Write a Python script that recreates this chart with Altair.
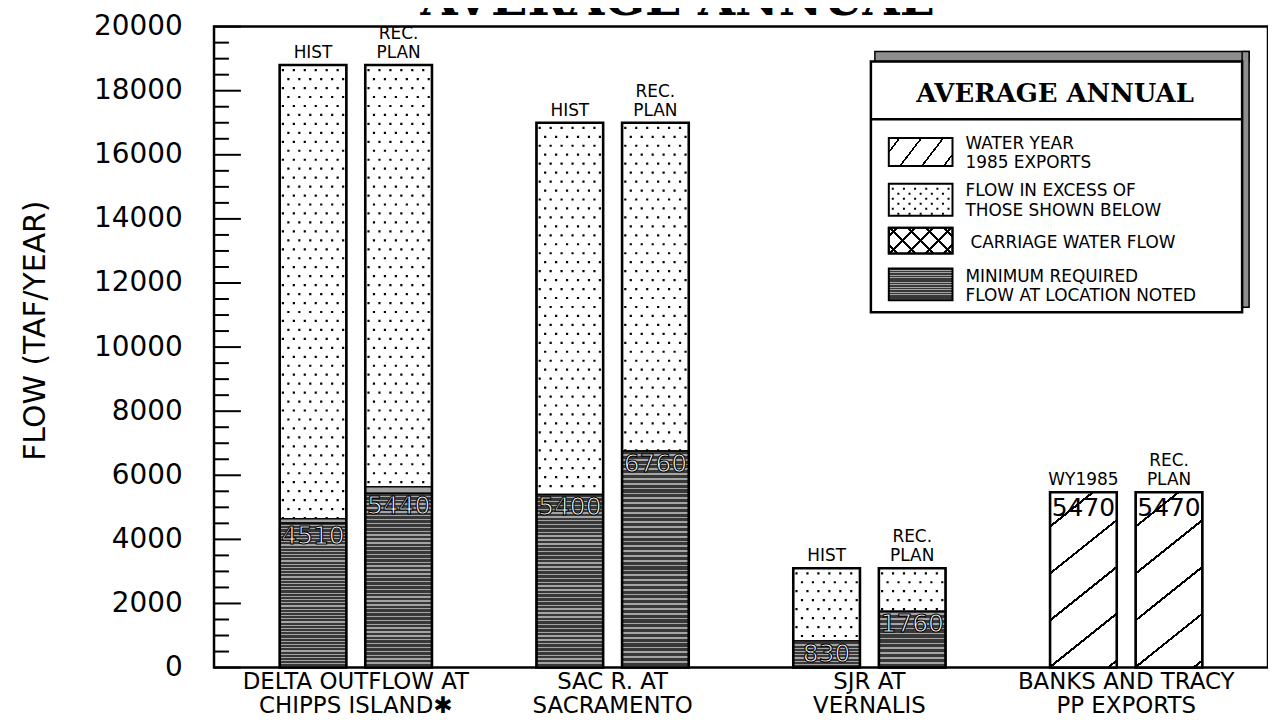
import altair as alt
import pandas as pd

# ---------------- data ----------------
group_names = [
    "DELTA OUTFLOW AT\nCHIPPS ISLAND\u2731",
    "SAC R. AT\nSACRAMENTO",
    "SJR AT\nVERNALIS",
    "BANKS AND TRACY\nPP EXPORTS",
]
bar_group = [0, 0, 1, 1, 2, 2, 3, 3]
bar_slot = [0, 1, 0, 1, 0, 1, 0, 1]
bar_labels = ["HIST", "REC.\nPLAN", "HIST", "REC.\nPLAN", "HIST", "REC.\nPLAN", "WY1985", "REC.\nPLAN"]
total_flow = [18800, 18800, 17000, 17000, 3100, 3100, 5470, 5470]
min_required = [4510, 5440, 5400, 6760, 830, 1760, 0, 0]
carriage_water = [130, 200, 0, 0, 0, 0, 0, 0]
exports_1985 = [0, 0, 0, 0, 0, 0, 5470, 5470]
y_label_ticks = list(range(0, 20001, 2000))
y_minor_ticks = list(range(0, 20001, 500))
legend_title = "AVERAGE ANNUAL"
legend_labels = [
    ["WATER YEAR", "1985 EXPORTS"],
    ["FLOW IN EXCESS OF", "THOSE SHOWN BELOW"],
    ["CARRIAGE WATER FLOW"],
    ["MINIMUM REQUIRED", "FLOW AT LOCATION NOTED"],
]
chart_title = "AVERAGE ANNUAL"

# ---------------- table ----------------
keys = [f"G{g}B{s}" for g, s in zip(bar_group, bar_slot)]
domain = []
for g in range(len(group_names)):
    if g > 0:
        domain.append(f"gap{g}")
    domain += [f"G{g}B0", f"G{g}B1"]

split_labels = [lab.split("\n") for lab in bar_labels]
df = pd.DataFrame({
    "key": keys,
    "group": [group_names[g] for g in bar_group],
    "slot": bar_slot,
    "lab_top": [p[0] if len(p) > 1 else "" for p in split_labels],
    "lab_bot": [p[-1] for p in split_labels],
    "total": total_flow,
    "min": min_required,
    "carr_top": [m + c for m, c in zip(min_required, carriage_water)],
    "exports": exports_1985,
})
df["min_text"] = df["min"].astype(str)
df["exp_text"] = df["exports"].astype(str)

# ---------------- fills ----------------
def stripes(ts, half, line, bg):
    stops = [{"offset": 0, "color": bg}]
    for t in ts:
        stops += [{"offset": t - half, "color": bg}, {"offset": t - half, "color": line},
                  {"offset": t + half, "color": line}, {"offset": t + half, "color": bg}]
    stops.append({"offset": 1, "color": bg})
    return stops

def streak_fill():
    n = 45
    stops = []
    for i in range(n):
        a, b, c = i / n, (i + 0.64) / n, (i + 1) / n
        stops += [{"offset": a, "color": "#383838"}, {"offset": b, "color": "#383838"},
                  {"offset": b, "color": "#a4a4a4"}, {"offset": c, "color": "#a4a4a4"}]
    return {"gradient": "linear", "x1": 0, "y1": 0, "x2": 0, "y2": 1, "stops": stops}

STREAK = streak_fill()
HATCH_BAR = {"gradient": "linear", "x1": 0, "y1": 0, "x2": 0.3636, "y2": 1.194,
             "stops": stripes([0.150, 0.355, 0.560, 0.764, 0.969], 0.006, "#000000", "#ffffff")}
HATCH_LEG = {"gradient": "linear", "x1": 0, "y1": 0, "x2": 1.2006, "y2": 0.404,
             "stops": stripes([0.126, 0.383, 0.640, 0.897], 0.012, "#000000", "#ffffff")}
CROSS_A = {"gradient": "linear", "x1": 0, "y1": 0, "x2": 1.207, "y2": 0.49,
           "stops": stripes([0.1, 0.3, 0.5, 0.7, 0.9], 0.016, "#000000", "rgba(255,255,255,0)")}
CROSS_B = {"gradient": "linear", "x1": 0, "y1": 1, "x2": 1.207, "y2": 0.51,
           "stops": stripes([0.1, 0.3, 0.5, 0.7, 0.9], 0.016, "#000000", "rgba(255,255,255,0)")}

FONT = "DejaVu Sans"
yscale = alt.Scale(domain=[0, 20000], nice=False, zero=True)
xenc = alt.X("key:N", scale=alt.Scale(domain=domain, paddingInner=0.221, paddingOuter=0.767), axis=None)
yaxis = alt.Axis(values=y_label_ticks, format="d", tickSize=0, domain=False, grid=False, labelFont=FONT,
                 labelFontSize=28, labelPadding=32, labelColor="black", labelOverlap=False,
                 title="FLOW (TAF/YEAR)", titleFont=FONT, titleFontSize=30, titleFontWeight="normal",
                 titleColor="black", titleX=-179, titleY=305, titleAngle=270, titleAlign="center",
                 titleBaseline="middle")

def Y(field):
    return alt.Y(field, scale=yscale, axis=yaxis)

base = alt.Chart(df)
layers = []

# excess flow (white with dots)
layers.append(base.transform_filter("datum.exports == 0").mark_bar(fill="white", stroke="black", strokeWidth=1.5)
              .encode(x=xenc, y=Y("carr_top:Q"), y2="total:Q"))
offsets = [-30.25 + 5.5 * i for i in range(12)]
for i, off in enumerate(offsets):
    layers.append(base.transform_filter("datum.exports == 0")
                  .mark_rule(stroke="black", strokeWidth=2.2, strokeDash=[2.2, 15.8],
                             strokeDashOffset=(14 if i % 2 == 0 else 5), xOffset=off)
                  .encode(x=xenc, y=Y("total:Q"), y2="carr_top:Q"))
# carriage water
layers.append(base.transform_filter("datum.carr_top > datum.min").mark_bar(fill="#a3a3a3", stroke="black", strokeWidth=1.2)
              .encode(x=xenc, y=Y("min:Q"), y2="carr_top:Q"))
# minimum required
layers.append(base.transform_filter("datum.min > 0").mark_bar(fill=STREAK, stroke="black", strokeWidth=1.5)
              .encode(x=xenc, y=Y("min:Q")))
# exports
layers.append(base.transform_filter("datum.exports > 0").mark_bar(fill=HATCH_BAR, stroke="black", strokeWidth=1.5)
              .encode(x=xenc, y=Y("exports:Q")))
# outline
layers.append(base.mark_bar(fillOpacity=0, stroke="black", strokeWidth=2.6)
              .encode(x=xenc, y=Y("total:Q")))
# scenario labels (two lines)
layers.append(base.mark_text(baseline="alphabetic", dy=-7, fontSize=17, font=FONT, color="black")
              .encode(x=xenc, y=Y("total:Q"), text="lab_bot:N"))
layers.append(base.mark_text(baseline="alphabetic", dy=-26, fontSize=17, font=FONT, color="black")
              .encode(x=xenc, y=Y("total:Q"), text="lab_top:N"))
# value labels
layers.append(base.transform_filter("datum.min > 0")
              .mark_text(baseline="top", dy=1, fontSize=25, font=FONT, fill="white", stroke="black", strokeWidth=1.1)
              .encode(x=xenc, y=Y("min:Q"), text="min_text:N"))
layers.append(base.transform_filter("datum.exports > 0")
              .mark_text(baseline="top", dy=4, fontSize=25, font=FONT, color="black")
              .encode(x=xenc, y=Y("exports:Q"), text="exp_text:N"))
# group labels
layers.append(base.transform_filter("datum.slot == 0")
              .mark_text(xOffset=43, baseline="alphabetic", lineBreak="\n", lineHeight=24, fontSize=23, font=FONT, color="black")
              .encode(x=xenc, y=alt.value(666), text="group:N"))

# y ticks (inward)
tick_df = pd.DataFrame({"v": y_minor_ticks})
tick_df["major"] = [v in y_label_ticks for v in y_minor_ticks]
tick_base = alt.Chart(tick_df)
layers.append(tick_base.transform_filter("datum.major").mark_rule(stroke="black", strokeWidth=2)
              .encode(y=Y("v:Q"), x=alt.value(0), x2=alt.value(27)))
layers.append(tick_base.transform_filter("!datum.major").mark_rule(stroke="black", strokeWidth=2)
              .encode(y=Y("v:Q"), x=alt.value(0), x2=alt.value(15)))

# ---------------- decorations (legend box, title) ----------------
one = alt.Chart(pd.DataFrame({"d": [0]}))

def rect(x, y, x2, y2, **mk):
    return one.mark_rect(**mk).encode(x=alt.value(x), x2=alt.value(x2), y=alt.value(y), y2=alt.value(y2))

def text(x, y, t, **mk):
    return one.mark_text(text=t, **mk).encode(x=alt.value(x), y=alt.value(y))

def vrule(x, y, y2, **mk):
    return one.mark_rule(**mk).encode(x=alt.value(x), y=alt.value(y), y2=alt.value(y2))

layers.append(text(465, -12, chart_title, font="DejaVu Serif", fontWeight="bold", fontSize=48,
                   baseline="alphabetic", align="center", color="black"))

layers.append(rect(664, 25, 1040, 35, fill="#8e8e8e", stroke="black", strokeWidth=1.5))
layers.append(rect(1033, 25, 1040, 282, fill="#8e8e8e", stroke="black", strokeWidth=1.5))
layers.append(rect(660, 35, 1033, 287, fill="white", stroke="black", strokeWidth=2.5))
layers.append(text(845, 68, legend_title, font="DejaVu Serif", fontWeight="bold", fontSize=26,
                   baseline="middle", align="center", color="black"))
layers.append(one.mark_rule(stroke="black", strokeWidth=2.5)
              .encode(x=alt.value(660), x2=alt.value(1033), y=alt.value(93)))

# swatches
layers.append(rect(678, 112, 742, 140, fill=HATCH_LEG, stroke="black", strokeWidth=2))
layers.append(rect(678, 158, 742, 190, fill="white", stroke="black", strokeWidth=2))
for i in range(11):
    layers.append(vrule(682 + 5.6 * i, 159, 189, stroke="black", strokeWidth=2, strokeDash=[2, 8],
                        strokeDashOffset=(7 if i % 2 == 0 else 2)))
layers.append(rect(678, 202, 742, 228, fill="white", stroke="black", strokeWidth=2))
layers.append(rect(678, 202, 742, 228, fill=CROSS_A))
layers.append(rect(678, 202, 742, 228, fill=CROSS_B))
layers.append(rect(678, 202, 742, 228, fillOpacity=0, stroke="black", strokeWidth=2))
layers.append(rect(678, 243, 742, 275, fill=STREAK, stroke="black", strokeWidth=2))

legend_y = [[118, 137], [165, 185], [217], [252, 271]]
legend_x = [755, 755, 760, 755]
for lines, ys, lx in zip(legend_labels, legend_y, legend_x):
    for t, ly in zip(lines, ys):
        layers.append(text(lx, ly, t, font=FONT, fontSize=17, baseline="middle", align="left", color="black"))

chart = alt.layer(*layers).properties(
    width=1059, height=644,
    padding={"left": 207, "top": 17, "right": 0, "bottom": 55},
    autosize=alt.AutoSizeParams(type="none"),
    background="white",
).configure_view(stroke="black", strokeWidth=2.5)

chart.save("out.html", embed_options={"renderer": "svg", "actions": False})
